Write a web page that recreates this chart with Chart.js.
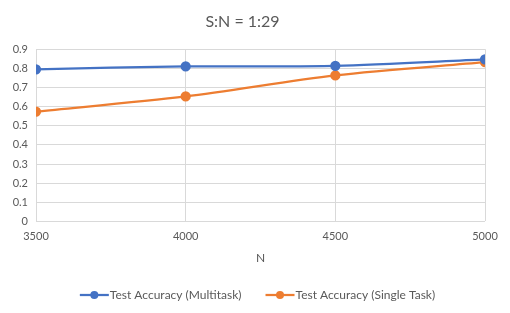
<!DOCTYPE html>
<html lang="en">
<head>
<meta charset="UTF-8">
<title>S:N = 1:29</title>
<script src="https://cdn.jsdelivr.net/npm/chart.js"></script>
<style>
  html, body { margin: 0; padding: 0; background: #fff; }
  #wrap { width: 510px; height: 313px; position: relative; }
</style>
</head>
<body>
<div id="wrap"><canvas id="chart"></canvas></div>
<script>
const nValues = [3500, 4000, 4500, 5000];
const multitask = [0.795, 0.810, 0.813, 0.847];
const singleTask = [0.574, 0.653, 0.763, 0.832];
const yTicks = [0, 0.1, 0.2, 0.3, 0.4, 0.5, 0.6, 0.7, 0.8, 0.9];

Chart.defaults.font.family = "Lato, 'Open Sans', sans-serif";
Chart.defaults.color = '#595959';

const toPoints = vals => vals.map((v, i) => ({ x: nValues[i], y: v }));

new Chart(document.getElementById('chart'), {
    type: 'line',
    data: {
        datasets: [
            { label: 'Test Accuracy (Multitask)', data: toPoints(multitask), borderColor: '#4472C4', backgroundColor: '#4472C4', borderWidth: 2.25, pointRadius: 4, tension: 0.3 },
            { label: 'Test Accuracy (Single Task)', data: toPoints(singleTask), borderColor: '#ED7D31', backgroundColor: '#ED7D31', borderWidth: 2.25, pointRadius: 4, tension: 0.3 }
        ]
    },
    options: {
        responsive: true,
        maintainAspectRatio: false,
        animation: false,
        layout: { padding: { left: 0, right: 25, top: 10, bottom: 2 } },
        scales: {
            x: {
                type: 'linear', min: 3500, max: 5000,
                afterBuildTicks: s => { s.ticks = nValues.map(v => ({ value: v })); },
                grid: { color: '#d9d9d9', drawTicks: false },
                border: { display: false },
                ticks: { font: { size: 11 }, padding: 8, maxRotation: 0, callback: v => String(v) },
                title: { display: true, text: 'N', font: { size: 12 }, padding: { top: 0, bottom: 0 } }
            },
            y: {
                min: 0, max: 0.9,
                afterBuildTicks: s => { s.ticks = yTicks.map(v => ({ value: v })); },
                afterFit: s => { s.width = 36; },
                grid: { color: '#d9d9d9', drawTicks: false },
                border: { display: false },
                ticks: { font: { size: 11 }, padding: 8, callback: v => String(Math.round(v * 10) / 10) }
            }
        },
        plugins: {
            title: { display: true, text: 'S:N = 1:29', font: { size: 16, weight: 'normal' }, color: '#595959', padding: { top: 2, bottom: 18 } },
            legend: { position: 'bottom', labels: { font: { size: 12 }, boxWidth: 24, boxHeight: 2, padding: 24,
                generateLabels: chart => chart.data.datasets.map((d, i) => ({ text: d.label, fillStyle: 'rgba(0,0,0,0)', strokeStyle: 'rgba(0,0,0,0)', lineWidth: 0, datasetIndex: i, fontColor: '#595959' })) } },
            tooltip: { enabled: false }
        }
    },
    plugins: [{
        id: 'legendMarkers',
        afterLayout(chart) {
            // centre the legend on the whole canvas, not the padded area
            const lg = chart.legend, shift = 15;
            lg.left += shift; lg.right += shift;
            lg.legendHitBoxes.forEach(b => { b.left += shift; });
        },
        afterDraw(chart) {
            const lg = chart.legend, ctx = chart.ctx;
            lg.legendHitBoxes.forEach((box, i) => {
                const c = chart.data.datasets[i].borderColor, y = box.top + box.height / 2;
                ctx.save();
                ctx.strokeStyle = c; ctx.fillStyle = c; ctx.lineWidth = 2.25;
                ctx.beginPath(); ctx.moveTo(box.left, y); ctx.lineTo(box.left + 29, y); ctx.stroke();
                ctx.beginPath(); ctx.arc(box.left + 14.5, y, 4, 0, Math.PI * 2); ctx.fill();
                ctx.restore();
            });
        }
    }]
});
</script>
</body>
</html>
